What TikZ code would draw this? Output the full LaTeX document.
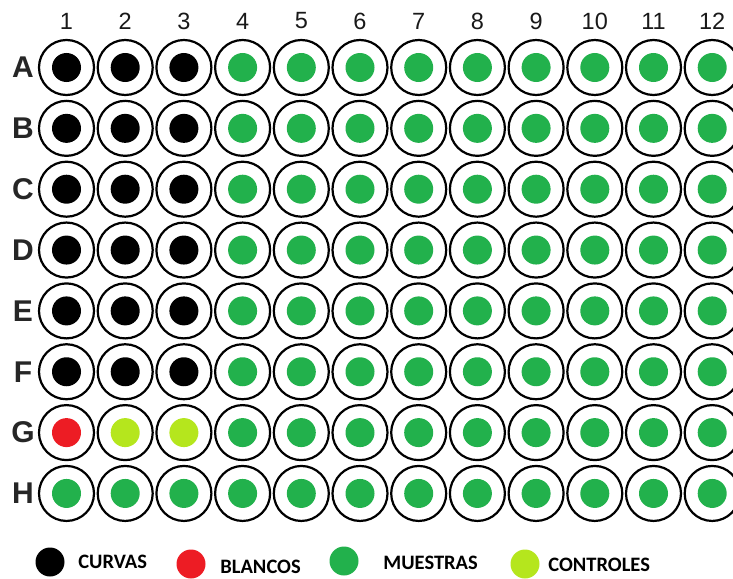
\documentclass[tikz,border=0pt]{standalone}
\usepackage{fontspec}
\setmainfont{Liberation Sans}
\newfontfamily\legendfont{Carlito}
\usetikzlibrary{positioning}
\definecolor{wellgreen}{RGB}{34,177,76}
\definecolor{wellred}{RGB}{237,28,36}
\definecolor{welllime}{RGB}{181,230,29}

\tikzset{
  well/.style={circle, draw, line width=2.2pt, minimum size=55pt, inner sep=0pt},
  dot/.style={circle, fill=#1, minimum size=29pt, inner sep=0pt},
  collabel/.style={font=\fontsize{23.5}{23.5}\selectfont, text=black!90},
  rowlabel/.style={font=\fontsize{30}{30}\selectfont\bfseries, text=black!85},
  keytext/.style={font=\legendfont\fontsize{20.5}{20.5}\selectfont\bfseries, anchor=west, inner sep=0pt}
}

\begin{document}
\begin{tikzpicture}[x=1pt, y=-1pt]
    \useasboundingbox (0,0) rectangle (733,578);

    % Column numbers
    \foreach \c in {1,...,12}
        \node[collabel] (col\c) at ({66.5+(\c-1)*58.7}, 21) {\c};

    % Rows of wells
    \foreach \r [count=\i] in {A,B,C,D,E,F,G,H} {
        \node[rowlabel] (row\r) at (23, {67.5+(\i-1)*60.85}) {\r};
        \foreach \c in {1,...,12} {
            \def\dotcol{wellgreen}
            \ifnum\c<4 \ifnum\i<7 \def\dotcol{black}\fi\fi
            \ifnum\i=7
                \ifnum\c=1 \def\dotcol{wellred}\fi
                \ifnum\c>1 \ifnum\c<4 \def\dotcol{welllime}\fi\fi
            \fi
            \node[well] (\r\c) at ({66.5+(\c-1)*58.7}, {67.5+(\i-1)*60.85}) {};
            \node[dot=\dotcol] (\r\c dot) at (\r\c) {};
        }
    }

    % Legend
    \node[dot=black] (keycurvas) at (50,562) {};
    \node[keytext, right=13.5pt of keycurvas] (txtcurvas) {CURVAS};

    \node[dot=wellred] (keyblancos) at (191,564) {};
    \node[keytext, right=14.5pt of keyblancos, yshift=-3pt] (txtblancos) {BLANCOS};

    \node[dot=wellgreen] (keymuestras) at (344,561) {};
    \node[keytext, right=24.5pt of keymuestras, yshift=-2pt] (txtmuestras) {MUESTRAS};

    \node[dot=welllime] (keycontroles) at (525,564) {};
    \node[keytext, right=8.5pt of keycontroles, yshift=-1pt] (txtcontroles) {CONTROLES};
\end{tikzpicture}
\end{document}
